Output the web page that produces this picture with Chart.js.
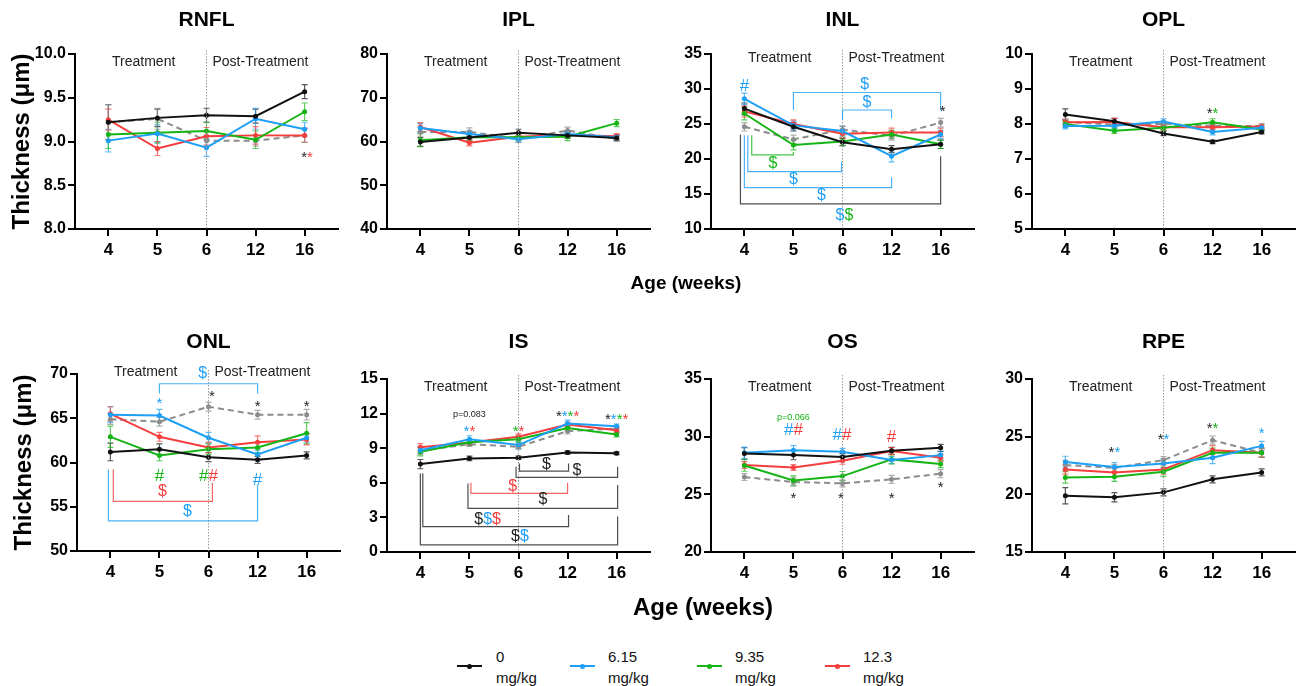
<!DOCTYPE html>
<html>
<head>
<meta charset="utf-8">
<script src="https://cdn.jsdelivr.net/npm/chart.js@4.4.1/dist/chart.umd.min.js"></script>
<style>
    body { margin: 0; background: #fff; }
    #wrap { position: relative; width: 1300px; height: 686px; overflow: hidden; font-family: "Liberation Sans", Arial, sans-serif; }
    #wrap canvas { position: absolute; }
    .eje { position: absolute; font-weight: bold; white-space: nowrap; transform: translate(-50%, -50%); color: #000; }
    .leyLinea { position: absolute; height: 2px; width: 25px; }
    .leyPunto { position: absolute; width: 5px; height: 5px; border-radius: 50%; left: 10px; top: -1.5px; }
    .leyTexto { position: absolute; font-size: 15px; line-height: 21px; color: #111; }
</style>
</head>
<body>
<div id="wrap"></div>
<script>
// ---------------------------------------------- DATOS -------------------------------------
// filas: 0, 6.15, 9.35, 12.3 mg/kg y la serie gris discontinua (sin leyenda)
const weeks = ['4', '5', '6', '12', '16'];
const groups = ['0', '6.15', '9.35', '12.3', 'Reference'];

const rnflMean = [
    [9.22, 9.27, 9.30, 9.29, 9.57],
    [9.01, 9.09, 8.93, 9.26, 9.14],
    [9.08, 9.10, 9.12, 9.02, 9.34],
    [9.25, 8.92, 9.06, 9.07, 9.07],
    [9.22, 9.26, 9.01, 9.01, 9.07]
];
const rnflErr = [
    [0.20, 0.10, 0.08, 0.08, 0.08],
    [0.13, 0.10, 0.10, 0.12, 0.08],
    [0.16, 0.12, 0.10, 0.10, 0.10],
    [0.12, 0.08, 0.10, 0.10, 0.08],
    [0.20, 0.12, 0.06, 0.06, 0.08]
];
const iplMean = [
    [59.9, 60.9, 62.0, 61.4, 60.8],
    [63.1, 61.7, 60.5, 61.7, 61.0],
    [60.3, 61.0, 61.0, 61.1, 64.2],
    [63.3, 59.7, 61.1, 61.5, 61.2],
    [62.2, 62.2, 60.6, 62.5, 60.6]
];
const iplErr = [
    [1.0, 0.8, 0.8, 0.7, 0.6],
    [1.0, 0.8, 0.7, 0.8, 0.6],
    [1.5, 0.8, 0.8, 0.9, 0.8],
    [1.0, 0.7, 0.7, 0.7, 0.6],
    [1.0, 0.9, 0.8, 0.8, 0.6]
];
const inlMean = [
    [27.2, 24.6, 22.4, 21.4, 22.1],
    [28.6, 24.8, 24.0, 20.4, 23.5],
    [26.5, 22.0, 22.5, 23.5, 22.1],
    [26.8, 25.0, 23.6, 23.8, 23.8],
    [24.6, 22.8, 24.2, 23.3, 25.2]
];
const inlErr = [
    [0.8, 0.6, 0.5, 0.5, 0.6],
    [0.8, 0.6, 0.7, 0.8, 0.6],
    [0.9, 0.7, 0.6, 0.6, 0.6],
    [0.8, 0.6, 0.6, 0.6, 0.6],
    [0.6, 0.6, 0.5, 0.6, 0.6]
];
const oplMean = [
    [8.27, 8.08, 7.73, 7.49, 7.77],
    [7.94, 7.95, 8.07, 7.77, 7.89],
    [8.00, 7.81, 7.89, 8.05, 7.84],
    [8.05, 8.06, 7.91, 7.91, 7.93],
    [8.06, 7.98, 8.00, 7.95, 7.94]
];
const oplErr = [
    [0.16, 0.08, 0.06, 0.05, 0.05],
    [0.08, 0.08, 0.08, 0.08, 0.06],
    [0.10, 0.08, 0.07, 0.10, 0.06],
    [0.08, 0.10, 0.07, 0.08, 0.07],
    [0.08, 0.06, 0.06, 0.06, 0.06]
];
const onlMean = [
    [61.2, 61.5, 60.6, 60.3, 60.8],
    [65.4, 65.3, 62.8, 60.9, 62.8],
    [62.9, 60.8, 61.5, 61.7, 63.3],
    [65.5, 62.9, 61.7, 62.3, 62.6],
    [64.9, 64.6, 66.3, 65.4, 65.4]
];
const onlErr = [
    [1.0, 0.6, 0.5, 0.4, 0.4],
    [0.9, 0.7, 0.6, 0.5, 0.5],
    [1.2, 0.6, 0.6, 0.6, 1.2],
    [0.8, 0.5, 0.6, 0.7, 0.6],
    [0.6, 0.5, 0.5, 0.5, 0.6]
];
const isMean = [
    [7.62, 8.11, 8.17, 8.63, 8.57],
    [8.83, 9.78, 9.27, 11.14, 10.90],
    [8.69, 9.52, 9.78, 10.76, 10.19],
    [9.09, 9.50, 9.99, 11.05, 10.56],
    [8.78, 9.35, 9.12, 10.48, 10.70]
];
const isErr = [
    [0.40, 0.20, 0.15, 0.15, 0.12],
    [0.30, 0.30, 0.30, 0.30, 0.20],
    [0.35, 0.25, 0.30, 0.25, 0.20],
    [0.30, 0.25, 0.25, 0.20, 0.20],
    [0.30, 0.20, 0.20, 0.25, 0.20]
];
const osMean = [
    [28.54, 28.40, 28.23, 28.78, 29.03],
    [28.60, 28.83, 28.69, 27.97, 28.40],
    [27.50, 26.20, 26.58, 28.03, 27.62],
    [27.54, 27.33, 27.91, 28.75, 28.17],
    [26.50, 26.07, 25.95, 26.30, 26.79]
];
const osErr = [
    [0.50, 0.40, 0.30, 0.30, 0.30],
    [0.50, 0.40, 0.30, 0.30, 0.30],
    [0.50, 0.40, 0.40, 0.40, 0.30],
    [0.30, 0.25, 0.30, 0.30, 0.30],
    [0.30, 0.35, 0.30, 0.35, 0.35]
];
const rpeMean = [
    [19.88, 19.74, 20.17, 21.30, 21.90],
    [22.80, 22.36, 22.68, 23.17, 24.20],
    [21.47, 21.53, 21.96, 23.60, 23.60],
    [22.16, 21.90, 22.16, 23.83, 23.60],
    [22.54, 22.30, 22.97, 24.70, 23.60]
];
const rpeErr = [
    [0.70, 0.40, 0.30, 0.30, 0.30],
    [0.50, 0.40, 0.40, 0.50, 0.40],
    [0.50, 0.40, 0.40, 0.40, 0.40],
    [0.40, 0.40, 0.40, 0.40, 0.40],
    [0.40, 0.30, 0.30, 0.35, 0.35]
];

// marcas de significancia (x = indice de semana, s = series: k b g r)
const rnflMarks = [{ x: 4.05, y: 8.86, c: '*', s: 'kr' }];
const iplMarks = [];
const inlMarks = [
    { x: 0, y: 30.4, c: '#', s: 'b' },
    { x: 4.04, y: 27.2, c: '*', s: 'k' },
    { x: 2.45, y: 30.6, c: '$', s: 'b' },
    { x: 2.5, y: 28.0, c: '$', s: 'b' },
    { x: 0.58, y: 19.4, c: '$', s: 'g' },
    { x: 1.0, y: 17.1, c: '$', s: 'b' },
    { x: 1.57, y: 14.8, c: '$', s: 'b' },
    { x: 2.04, y: 11.9, c: '$', s: 'bg' }
];
const inlBrackets = [
    { x1: 1, x2: 4, y: 29.5, t1: 27.0, t2: 27.0, s: 'b' },
    { x1: 2, x2: 3, y: 27.0, t1: 25.6, t2: 25.8, s: 'b' },
    { x1: 0.15, x2: 1, y: 20.6, t1: 23.4, t2: 21.0, s: 'g' },
    { x1: 0.07, x2: 1.98, y: 18.2, t1: 23.4, t2: 19.6, s: 'b' },
    { x1: 0, x2: 3, y: 15.9, t1: 23.4, t2: 17.4, s: 'b' },
    { x1: -0.08, x2: 4, y: 13.6, t1: 23.5, t2: 20.4, s: 'k' }
];
const oplMarks = [{ x: 3, y: 8.41, c: '*', s: 'kg' }];
const onlMarks = [
    { x: 1, y: 67.1, c: '*', s: 'b' },
    { x: 2.07, y: 67.8, c: '*', s: 'k' },
    { x: 3, y: 66.7, c: '*', s: 'k' },
    { x: 4, y: 66.7, c: '*', s: 'k' },
    { x: 1.88, y: 70.1, c: '$', s: 'b' },
    { x: 1, y: 58.4, c: '#', s: 'g' },
    { x: 2, y: 58.4, c: '#', s: 'gr' },
    { x: 3, y: 58.0, c: '#', s: 'b' },
    { x: 1.06, y: 56.7, c: '$', s: 'r' },
    { x: 1.57, y: 54.5, c: '$', s: 'b' }
];
const onlBrackets = [
    { x1: 1, x2: 3, y: 68.9, t1: 67.8, t2: 67.8, s: 'b' },
    { x1: 0.06, x2: 2.08, y: 55.6, t1: 59.2, t2: 57.7, s: 'r' },
    { x1: -0.04, x2: 3, y: 53.4, t1: 59.2, t2: 57.5, s: 'b' }
];
const isMarks = [
    { x: 1, y: 11.9, t: 'p=0.083', s: 'k' },
    { x: 1, y: 10.76, c: '*', s: 'br' },
    { x: 2, y: 10.76, c: '*', s: 'gr' },
    { x: 3, y: 12.0, c: '*', s: 'kbgr' },
    { x: 4, y: 11.77, c: '*', s: 'kbgr' },
    { x: 2.57, y: 7.6, c: '$', s: 'k' },
    { x: 3.19, y: 7.1, c: '$', s: 'k' },
    { x: 1.88, y: 5.66, c: '$', s: 'r' },
    { x: 2.5, y: 4.51, c: '$', s: 'k' },
    { x: 1.37, y: 2.84, c: '$', s: 'kbr' },
    { x: 2.03, y: 1.34, c: '$', s: 'kb' }
];
const isBrackets = [
    { x1: 2.02, x2: 3.02, y: 7.02, t1: 7.68, t2: 7.68, s: 'k' },
    { x1: 1.95, x2: 4.02, y: 6.47, t1: 7.39, t2: 7.39, s: 'k' },
    { x1: 1.03, x2: 3.0, y: 5.09, t1: 6.01, t2: 6.01, s: 'r' },
    { x1: 0.97, x2: 4.02, y: 3.79, t1: 5.95, t2: 5.81, s: 'k' },
    { x1: 0.05, x2: 3.02, y: 2.2, t1: 6.82, t2: 3.2, s: 'k' },
    { x1: 0.0, x2: 4.02, y: 0.62, t1: 6.8, t2: 3.07, s: 'k' }
];
const osMarks = [
    { x: 1, y: 31.66, t: 'p=0.066', s: 'g' },
    { x: 1, y: 30.56, c: '#', s: 'br' },
    { x: 1.99, y: 30.13, c: '#', s: 'br' },
    { x: 3, y: 29.98, c: '#', s: 'r' },
    { x: 1, y: 24.94, c: '*', s: 'k' },
    { x: 1.97, y: 24.94, c: '*', s: 'k' },
    { x: 3, y: 24.94, c: '*', s: 'k' },
    { x: 4, y: 25.9, c: '*', s: 'k' }
];
const rpeMarks = [
    { x: 1, y: 23.9, c: '*', s: 'kb' },
    { x: 2, y: 25.07, c: '*', s: 'kb' },
    { x: 3, y: 26.0, c: '*', s: 'kg' },
    { x: 4, y: 25.6, c: '*', s: 'b' }
];

// ---------------------------------------------- ESTILO / POSICION -------------------------------------
const FAM = '"Liberation Sans", Arial, sans-serif';
const colors = ['#111111', '#1d9ff5', '#16b516', '#f43d3d', '#8c8c8c'];
const markColor = { k: '#222222', b: '#1d9ff5', g: '#16b516', r: '#f43d3d' };
const XMIN = -0.68, XMAX = 4.68, AREA_W = 263, YW = 70, PAD_TOP = 50, XH = 40;

const panels = [
    { name: 'RNFL', mean: rnflMean, err: rnflErr, y: [8, 10, 0.5, 1], left: 75, top: 54, bottom: 229, titleY: 20, txtDy: 8, marks: rnflMarks, br: [], yTitle: true },
    { name: 'IPL', mean: iplMean, err: iplErr, y: [40, 80, 10, 0], left: 387, top: 54, bottom: 229, titleY: 20, txtDy: 8, marks: iplMarks, br: [] },
    { name: 'INL', mean: inlMean, err: inlErr, y: [10, 35, 5, 0], left: 711, top: 54, bottom: 229, titleY: 20, txtDy: 4, marks: inlMarks, br: inlBrackets },
    { name: 'OPL', mean: oplMean, err: oplErr, y: [5, 10, 1, 0], left: 1032, top: 54, bottom: 229, titleY: 20, txtDy: 8, marks: oplMarks, br: [] },
    { name: 'ONL', mean: onlMean, err: onlErr, y: [50, 70, 5, 0], left: 77, top: 374, bottom: 551, titleY: 342, txtDy: -2, marks: onlMarks, br: onlBrackets, yTitle: true },
    { name: 'IS', mean: isMean, err: isErr, y: [0, 15, 3, 0], left: 387, top: 379, bottom: 552, titleY: 342, txtDy: 8, marks: isMarks, br: isBrackets },
    { name: 'OS', mean: osMean, err: osErr, y: [20, 35, 5, 0], left: 711, top: 379, bottom: 552, titleY: 342, txtDy: 8, marks: osMarks, br: [] },
    { name: 'RPE', mean: rpeMean, err: rpeErr, y: [15, 30, 5, 0], left: 1032, top: 379, bottom: 552, titleY: 342, txtDy: 8, marks: rpeMarks, br: [] }
];

// ---------------------------------------------- GRAFICAS -------------------------------------
function anotaciones(p) {
    return {
        id: 'anot' + p.name,
        beforeDatasetsDraw(chart) {
            // barras de error
            const ctx = chart.ctx, ys = chart.scales.y;
            chart.data.datasets.forEach((ds, i) => {
                const meta = chart.getDatasetMeta(i);
                ctx.save();
                ctx.strokeStyle = ds.borderColor;
                ctx.globalAlpha = 0.7;
                ctx.lineWidth = 1.2;
                meta.data.forEach((pt, j) => {
                    const v = ds.data[j].y, e = ds.err[j];
                    const y1 = ys.getPixelForValue(v + e), y2 = ys.getPixelForValue(v - e);
                    ctx.beginPath();
                    ctx.moveTo(pt.x, y1); ctx.lineTo(pt.x, y2);
                    ctx.moveTo(pt.x - 3, y1); ctx.lineTo(pt.x + 3, y1);
                    ctx.moveTo(pt.x - 3, y2); ctx.lineTo(pt.x + 3, y2);
                    ctx.stroke();
                });
                ctx.restore();
            });
        },
        afterDraw(chart) {
            const ctx = chart.ctx, xs = chart.scales.x, ys = chart.scales.y, a = chart.chartArea;
            const x6 = xs.getPixelForValue(2);
            ctx.save();
            // linea punteada semana 6
            ctx.strokeStyle = '#9a9a9a';
            ctx.lineWidth = 1;
            ctx.setLineDash([1.5, 1.5]);
            ctx.beginPath();
            ctx.moveTo(x6, a.top - 4);
            ctx.lineTo(x6, a.bottom);
            ctx.stroke();
            ctx.setLineDash([]);

            ctx.textAlign = 'center';
            ctx.textBaseline = 'middle';
            ctx.fillStyle = '#222';
            ctx.font = '14px ' + FAM;
            ctx.fillText('Treatment', xs.getPixelForValue(0.72), a.top + p.txtDy);
            ctx.fillText('Post-Treatment', xs.getPixelForValue(3.1), a.top + p.txtDy);

            ctx.fillStyle = '#000';
            ctx.font = 'bold 21px ' + FAM;
            ctx.fillText(p.name, x6, a.top - (p.top - p.titleY));

            // corchetes
            p.br.forEach(b => {
                ctx.strokeStyle = markColor[b.s];
                ctx.globalAlpha = 0.8;
                ctx.lineWidth = 1.2;
                const x1 = xs.getPixelForValue(b.x1), x2 = xs.getPixelForValue(b.x2), y = ys.getPixelForValue(b.y);
                ctx.beginPath();
                ctx.moveTo(x1, ys.getPixelForValue(b.t1));
                ctx.lineTo(x1, y);
                ctx.lineTo(x2, y);
                ctx.lineTo(x2, ys.getPixelForValue(b.t2));
                ctx.stroke();
            });
            ctx.globalAlpha = 1;

            // simbolos
            p.marks.forEach(m => {
                const x = xs.getPixelForValue(m.x), y = ys.getPixelForValue(m.y);
                if (m.t) {
                    ctx.font = '9px ' + FAM;
                    ctx.fillStyle = markColor[m.s];
                    ctx.textAlign = 'center';
                    ctx.fillText(m.t, x, y);
                    return;
                }
                const size = m.c === '*' ? 15 : (m.c === '#' ? 17 : 16);
                ctx.font = size + 'px ' + FAM;
                const w = ctx.measureText(m.c).width;
                let cx = x - w * m.s.length / 2;
                const dy = m.c === '*' ? size * 0.25 : 0;
                ctx.textAlign = 'left';
                for (const ch of m.s) {
                    ctx.fillStyle = markColor[ch];
                    ctx.fillText(m.c, cx, y + dy);
                    cx += w;
                }
            });

            if (p.yTitle) {
                ctx.translate(a.left - 53, (a.top + a.bottom) / 2);
                ctx.rotate(-Math.PI / 2);
                ctx.textAlign = 'center';
                ctx.fillStyle = '#000';
                ctx.font = 'bold 24px ' + FAM;
                ctx.fillText('Thickness (\u03bcm)', 0, 0);
            }
            ctx.restore();
        }
    };
}

function crearPanel(p) {
    const wrap = document.getElementById('wrap');
    const cv = document.createElement('canvas');
    const W = YW + AREA_W + 6, H = PAD_TOP + (p.bottom - p.top) + XH;
    cv.width = W; cv.height = H;
    cv.style.width = W + 'px'; cv.style.height = H + 'px';
    cv.style.left = (p.left - YW) + 'px';
    cv.style.top = (p.top - PAD_TOP) + 'px';
    wrap.appendChild(cv);

    const ejeGrid = { display: true, drawOnChartArea: false, drawTicks: true, tickLength: 7, color: '#000', lineWidth: 2 };
    const ejeBorde = { display: true, color: '#000', width: 2 };

    new Chart(cv, {
        type: 'line',
        data: {
            datasets: p.mean.map((row, i) => ({
                label: groups[i],
                data: row.map((v, j) => ({ x: j, y: v })),
                err: p.err[i],
                borderColor: colors[i],
                backgroundColor: colors[i],
                borderWidth: 2,
                borderDash: i === 4 ? [6, 4] : [],
                pointRadius: 2.5,
                pointHoverRadius: 2.5,
                pointBorderWidth: 0,
                pointBackgroundColor: colors[i],
                tension: 0
            }))
        },
        options: {
            responsive: false,
            animation: false,
            events: [],
            layout: { padding: { top: PAD_TOP, right: 6, left: 0, bottom: 0 } },
            plugins: { legend: { display: false }, tooltip: { enabled: false } },
            scales: {
                x: {
                    type: 'linear', min: XMIN, max: XMAX,
                    afterBuildTicks: s => { s.ticks = weeks.map((w, i) => ({ value: i })); },
                    afterFit: s => { s.height = XH; },
                    ticks: { callback: v => weeks[v], font: { family: FAM, size: 17, weight: 'bold' }, color: '#000', padding: 4, maxRotation: 0, autoSkip: false },
                    grid: ejeGrid, border: ejeBorde
                },
                y: {
                    min: p.y[0], max: p.y[1],
                    afterFit: s => { s.width = YW; },
                    ticks: { stepSize: p.y[2], callback: v => v.toFixed(p.y[3]), font: { family: FAM, size: 16, weight: 'bold' }, color: '#000', padding: 2 },
                    grid: ejeGrid, border: ejeBorde
                }
            }
        },
        plugins: [anotaciones(p)]
    });
}

panels.forEach(crearPanel);

// ---------------------------------------------- TEXTOS Y LEYENDA -------------------------------------
function texto(t, x, y, size) {
    const d = document.createElement('div');
    d.className = 'eje';
    d.style.left = x + 'px'; d.style.top = y + 'px';
    d.style.fontSize = size + 'px';
    d.textContent = t;
    document.getElementById('wrap').appendChild(d);
}
texto('Age (weeks)', 686, 283, 19);
texto('Age (weeks)', 703, 607, 24);

const legLineX = [457, 570, 697, 825];
const legTextX = [496, 608, 735, 863];
for (let i = 0; i < 4; i++) {
    const linea = document.createElement('div');
    linea.className = 'leyLinea';
    linea.style.left = legLineX[i] + 'px';
    linea.style.top = '665px';
    linea.style.background = colors[i];
    const punto = document.createElement('div');
    punto.className = 'leyPunto';
    punto.style.background = colors[i];
    linea.appendChild(punto);
    document.getElementById('wrap').appendChild(linea);

    const t = document.createElement('div');
    t.className = 'leyTexto';
    t.style.left = legTextX[i] + 'px';
    t.style.top = '646px';
    t.innerHTML = groups[i] + '<br>mg/kg';
    document.getElementById('wrap').appendChild(t);
}
</script>
</body>
</html>
